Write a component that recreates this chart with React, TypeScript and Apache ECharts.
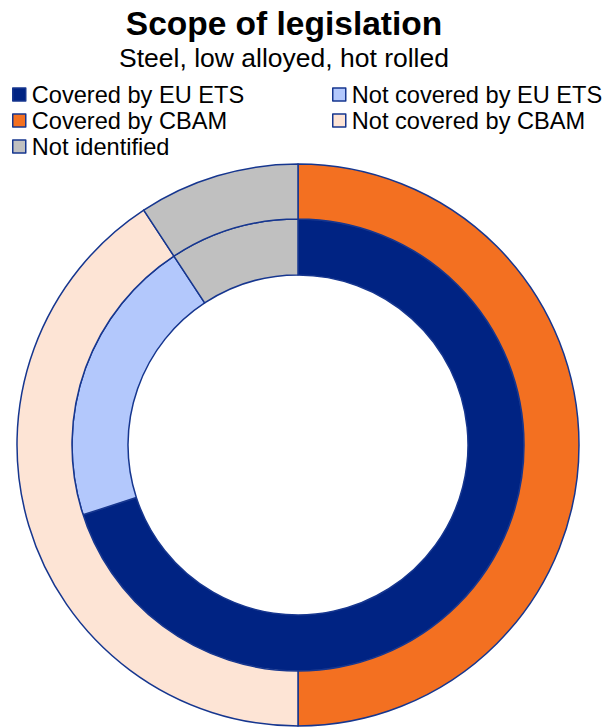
import React, { useEffect, useRef } from "react";
import * as echarts from "echarts";

const titleText = "Scope of legislation";
const subtitleText = "Steel, low alloyed, hot rolled";

const innerNames = ["Covered by EU ETS", "Not covered by EU ETS", "Not identified"];
const innerValues = [70.0, 20.75, 9.25];

const outerNames = ["Covered by CBAM", "Not covered by CBAM", "Not identified"];
const outerValues = [50.0, 40.75, 9.25];

const legendLeftNames = ["Covered by EU ETS", "Covered by CBAM", "Not identified"];
const legendRightNames = ["Not covered by EU ETS", "Not covered by CBAM"];

const colorMap: Record<string, string> = {
  "Covered by EU ETS": "#002383",
  "Not covered by EU ETS": "#B3C8FC",
  "Covered by CBAM": "#F37021",
  "Not covered by CBAM": "#FDE4D5",
  "Not identified": "#C0C0C0",
};

const BORDER = "#16368F";
const FONT = "'Liberation Sans', Arial, sans-serif";

export default function App() {
  const ref = useRef<HTMLDivElement>(null);
  useEffect(() => {
    if (!ref.current) return;
    const chart = echarts.init(ref.current, null, { renderer: "svg" });
    const mk = (names: string[], values: number[]) =>
      names.map((n, i) => ({
        name: n,
        value: values[i],
        itemStyle: { color: colorMap[n], borderColor: BORDER, borderWidth: 1.5 },
      }));
    const legendCommon = {
      orient: "vertical" as const,
      top: 81.5,
      padding: 0,
      itemWidth: 13,
      itemHeight: 13,
      itemGap: 0,
      icon: "rect",
      selectedMode: false,
      itemStyle: { borderColor: BORDER, borderWidth: 1.5 },
      textStyle: {
        fontFamily: FONT,
        fontSize: 23.6,
        color: "#000",
        lineHeight: 26,
        padding: [0, 0, 0, 1],
      },
    };
    chart.setOption({
      animation: false,
      backgroundColor: "#fff",
      graphic: [
        {
          type: "text",
          x: 284,
          y: 23.5,
          style: {
            text: titleText,
            fontFamily: FONT,
            fontSize: 33.5,
            fontWeight: "bold",
            fill: "#000",
            align: "center",
            verticalAlign: "middle",
          },
        },
        {
          type: "text",
          x: 284,
          y: 57.5,
          style: {
            text: subtitleText,
            fontFamily: FONT,
            fontSize: 26.5,
            fill: "#000",
            align: "center",
            verticalAlign: "middle",
          },
        },
      ],
      legend: [
        { ...legendCommon, left: 12, data: legendLeftNames },
        { ...legendCommon, left: 332, data: legendRightNames },
      ],
      series: [
        {
          type: "pie",
          name: "EU ETS",
          center: [298, 445],
          radius: [170, 226],
          startAngle: 90,
          clockwise: true,
          silent: true,
          label: { show: false },
          labelLine: { show: false },
          emphasis: { disabled: true },
          data: mk(innerNames, innerValues),
        },
        {
          type: "pie",
          name: "CBAM",
          center: [298, 445],
          radius: [226, 281],
          startAngle: 90,
          clockwise: true,
          silent: true,
          label: { show: false },
          labelLine: { show: false },
          emphasis: { disabled: true },
          data: mk(outerNames, outerValues),
        },
      ],
    });
    return () => chart.dispose();
  }, []);
  return (
    <div
      ref={ref}
      style={{ position: "absolute", left: 0, top: 0, width: 608, height: 728 }}
    />
  );
}
